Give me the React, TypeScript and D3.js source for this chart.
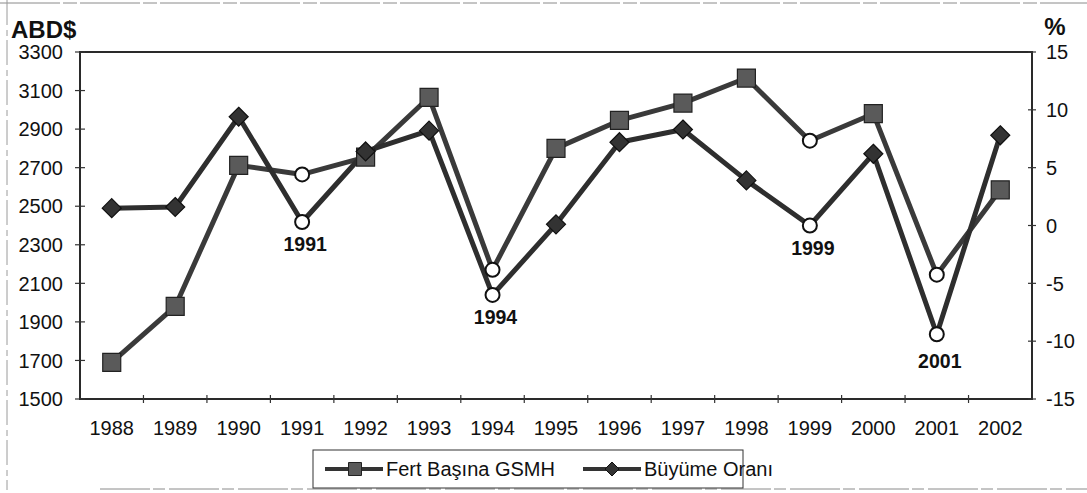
import React, { useEffect, useRef } from 'react'
import * as d3 from 'd3'

// values
const years = ['1988', '1989', '1990', '1991', '1992', '1993', '1994', '1995', '1996', '1997', '1998', '1999', '2000', '2001', '2002']
const gsmh = [1690, 1980, 2712, 2665, 2755, 3065, 2170, 2800, 2945, 3035, 3165, 2840, 2980, 2145, 2585]
const growth = [1.5, 1.6, 9.4, 0.3, 6.4, 8.2, -6.0, 0.1, 7.2, 8.3, 3.9, 0.0, 6.2, -9.4, 7.8]
const crisisYears = ['1991', '1994', '1999', '2001']
const leftTicks = [1500, 1700, 1900, 2100, 2300, 2500, 2700, 2900, 3100, 3300]
const rightTicks = [-15, -10, -5, 0, 5, 10, 15]
const legendLabels = ['Fert Başına GSMH', 'Büyüme Oranı']

const W = 1087
const H = 493
const FONT = 'Liberation Sans, Arial, sans-serif'

export default function App() {
  const ref = useRef<SVGSVGElement>(null)

  useEffect(() => {
    const svg = d3.select(ref.current)
    svg.selectAll('*').remove()

    const margin = { left: 80, right: 55, top: 52, bottom: 94 }
    const x = d3.scaleBand().domain(years).range([margin.left, W - margin.right])
    const yL = d3.scaleLinear().domain([1500, 3300]).range([H - margin.bottom, margin.top])
    const yR = d3.scaleLinear().domain([-15, 15]).range([H - margin.bottom, margin.top])
    const cx = (yr: string) => (x(yr) as number) + x.bandwidth() / 2
    const x0 = margin.left, x1 = W - margin.right
    const yTop = margin.top, yBot = H - margin.bottom

    // scan frame around the figure
    svg.append('line').attr('x1', 0).attr('x2', W).attr('y1', 3).attr('y2', 3)
      .attr('stroke', '#8a8a8a').attr('stroke-dasharray', '60 3 14 3')
    svg.append('line').attr('x1', 7).attr('x2', 7).attr('y1', 0).attr('y2', 490)
      .attr('stroke', '#9a9a9a').attr('stroke-dasharray', '25 5 6 4')
    svg.append('line').attr('x1', 100).attr('x2', W).attr('y1', 489).attr('y2', 489)
      .attr('stroke', '#8a8a8a').attr('stroke-dasharray', '50 3 12 4')

    // plot frame
    svg.append('rect').attr('x', x0).attr('y', yTop).attr('width', x1 - x0).attr('height', yBot - yTop)
      .attr('fill', 'none').attr('stroke', '#2a2a2a').attr('stroke-width', 2)

    // left axis
    leftTicks.forEach(t => {
      svg.append('line').attr('x1', x0 - 5).attr('x2', x0 + 5).attr('y1', yL(t)).attr('y2', yL(t))
        .attr('stroke', '#333').attr('stroke-width', 1.2)
      svg.append('text').attr('x', x0 - 17).attr('y', yL(t)).attr('dy', '0.36em')
        .attr('text-anchor', 'end').attr('font-family', FONT).attr('font-size', 20).attr('fill', '#111')
        .text(String(t))
    })
    // right axis
    rightTicks.forEach(t => {
      svg.append('line').attr('x1', x1 - 4).attr('x2', x1 + 4).attr('y1', yR(t)).attr('y2', yR(t))
        .attr('stroke', '#333').attr('stroke-width', 1.2)
      svg.append('text').attr('x', x1 + 14).attr('y', yR(t)).attr('dy', '0.36em')
        .attr('text-anchor', 'start').attr('font-family', FONT).attr('font-size', 20).attr('fill', '#111')
        .text(String(t))
    })
    // x axis ticks between categories + labels
    years.forEach((yr, i) => {
      if (i > 0) {
        const bx = x(yr) as number
        svg.append('line').attr('x1', bx).attr('x2', bx).attr('y1', yBot - 4).attr('y2', yBot + 4)
          .attr('stroke', '#333').attr('stroke-width', 1.2)
      }
      svg.append('text').attr('x', cx(yr)).attr('y', yBot + 36)
        .attr('text-anchor', 'middle').attr('font-family', FONT).attr('font-size', 20).attr('fill', '#111')
        .text(yr)
    })

    // axis titles
    svg.append('text').attr('x', 11).attr('y', 38).attr('font-family', FONT).attr('font-weight', 'bold')
      .attr('font-size', 24).attr('fill', '#111').text('ABD$')
    svg.append('text').attr('x', 1055).attr('y', 35).attr('text-anchor', 'middle').attr('font-family', FONT)
      .attr('font-weight', 'bold').attr('font-size', 24).attr('fill', '#111').text('%')

    // lines
    const lineL = d3.line<number>().x((d, i) => cx(years[i])).y(d => yL(d))
    const lineR = d3.line<number>().x((d, i) => cx(years[i])).y(d => yR(d))
    svg.append('path').datum(gsmh).attr('d', lineL).attr('fill', 'none')
      .attr('stroke', '#3a3a3a').attr('stroke-width', 5).attr('stroke-linejoin', 'round')
    svg.append('path').datum(growth).attr('d', lineR).attr('fill', 'none')
      .attr('stroke', '#2e2e2e').attr('stroke-width', 5).attr('stroke-linejoin', 'round')

    const square = d3.symbol().type(d3.symbolSquare).size(18 * 18)
    const diamond = (s: number) => `M0,${-s}L${s},0L0,${s}L${-s},0Z`

    years.forEach((yr, i) => {
      if (crisisYears.includes(yr)) return
      svg.append('path').attr('d', square()).attr('transform', `translate(${cx(yr)},${yL(gsmh[i])})`)
        .attr('fill', '#5a5a5a').attr('stroke', '#222').attr('stroke-width', 1.2)
      svg.append('path').attr('d', diamond(9.5)).attr('transform', `translate(${cx(yr)},${yR(growth[i])})`)
        .attr('fill', '#333').attr('stroke', '#111').attr('stroke-width', 1.2)
    })

    // crisis years: hollow circles + labels
    crisisYears.forEach(yr => {
      const i = years.indexOf(yr)
      svg.append('circle').attr('cx', cx(yr)).attr('cy', yL(gsmh[i])).attr('r', 7)
        .attr('fill', '#fff').attr('stroke', '#111').attr('stroke-width', 2)
      svg.append('circle').attr('cx', cx(yr)).attr('cy', yR(growth[i])).attr('r', 7)
        .attr('fill', '#fff').attr('stroke', '#111').attr('stroke-width', 2)
      svg.append('text').attr('x', cx(yr) + 3).attr('y', yR(growth[i]) + (yr === '2001' ? 34 : 29))
        .attr('text-anchor', 'middle').attr('font-family', FONT).attr('font-weight', 'bold')
        .attr('font-size', 19.5).attr('fill', '#111').text(yr)
    })

    // legend
    const lg = svg.append('g')
    lg.append('rect').attr('x', 313).attr('y', 450).attr('width', 430).attr('height', 38)
      .attr('fill', '#fff').attr('stroke', '#333').attr('stroke-width', 1)
    const items = [
      { x: 325, label: legendLabels[0], kind: 'square' },
      { x: 583, label: legendLabels[1], kind: 'diamond' },
    ]
    items.forEach(it => {
      lg.append('line').attr('x1', it.x).attr('x2', it.x + 58).attr('y1', 469).attr('y2', 469)
        .attr('stroke', '#333').attr('stroke-width', 4)
      if (it.kind === 'square') {
        lg.append('path').attr('d', d3.symbol().type(d3.symbolSquare).size(13 * 13)())
          .attr('transform', `translate(${it.x + 30},469)`).attr('fill', '#5a5a5a').attr('stroke', '#222')
      } else {
        lg.append('path').attr('d', diamond(7)).attr('transform', `translate(${it.x + 29},469)`)
          .attr('fill', '#333').attr('stroke', '#111')
      }
      lg.append('text').attr('x', it.x + 61).attr('y', 476).attr('font-family', FONT)
        .attr('font-size', 20).attr('fill', '#111').text(it.label)
    })
  }, [])

  return (
    <svg ref={ref} width={W} height={H}
      style={{ position: 'absolute', left: 0, top: 0, background: '#fff' }} />
  )
}
